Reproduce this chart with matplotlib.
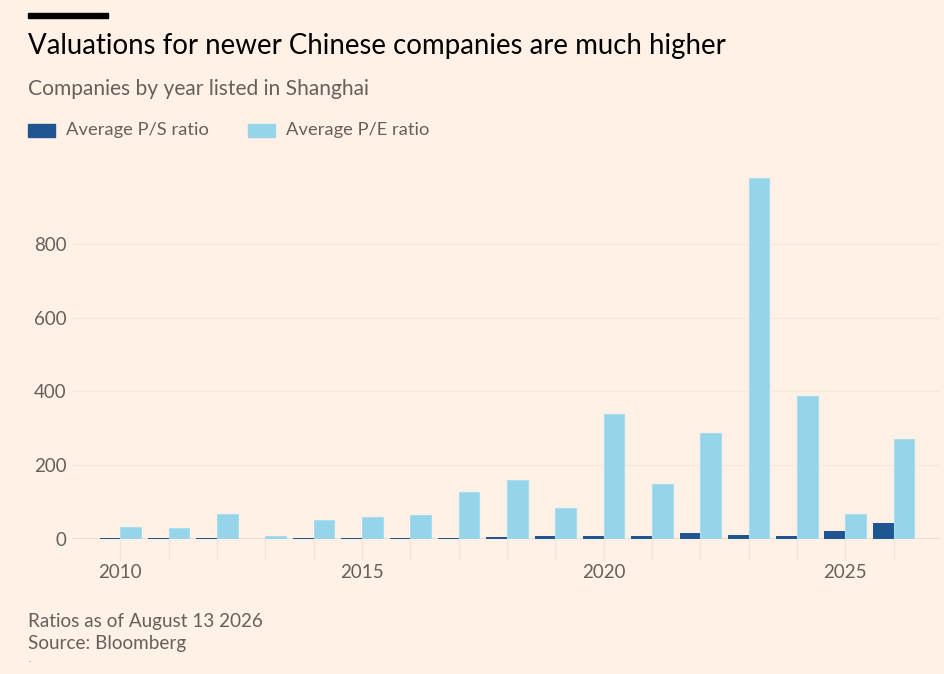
import numpy as np
import matplotlib
matplotlib.use("Agg")
import matplotlib.pyplot as plt
from matplotlib.patches import Rectangle

plt.rcParams['font.family'] = ['Lato', 'DejaVu Sans']

# data
years = list(range(2010, 2027))
ps_ratio = [2, 2, 2, 1, 4, 3.5, 4, 4, 4.5, 9, 9, 8, 16, 12, 9, 22, 43]
pe_ratio = [33, 30, 68, 8, 51, 60, 65, 127, 160, 84, 339, 149, 287, 978, 388, 68, 271]
tick_years = [2010, 2015, 2020, 2025]

BG = '#fff1e5'
DARK = '#1f5591'
LIGHT = '#96d4ea'
GREY = '#66605c'

fig = plt.figure(figsize=(9.44, 6.74), dpi=100, facecolor=BG)
ax = fig.add_axes([72/944, 1-539/674, (940-72)/944, (539-165)/674])
ax.set_facecolor(BG)

x = np.arange(len(years))
w = 0.43
ax.bar(x, ps_ratio, width=-w, align='edge', color=DARK, zorder=3)
ax.bar(x, pe_ratio, width=w, align='edge', color=LIGHT,
       edgecolor='#a8ddf0', linewidth=0.8, zorder=3)

ax.set_xlim(-1.0, len(years) - 0.04)
ax.set_ylim(0, 1014)

ax.set_yticks([0, 200, 400, 600, 800])
ax.yaxis.grid(True, color='#f5e8dc', linewidth=1, zorder=0)
ax.axhline(0, color='#e8dacf', linewidth=1.2, zorder=2)
ax.tick_params(axis='y', length=0, labelsize=13.5, labelcolor=GREY, pad=4)

ax.set_xticks(x)
ax.set_xticklabels([str(y) if y in tick_years else '' for y in years])
ax.tick_params(axis='x', length=15, width=1, color='#f2e4d9',
               labelsize=13.5, labelcolor=GREY, pad=3)
for s in ax.spines.values():
    s.set_visible(False)

# header
fig.add_artist(Rectangle((28/944, 1-18/674), 80/944, 5/674,
                         transform=fig.transFigure, color='black'))
fig.text(28/944, 1-46/674, 'Valuations for newer Chinese companies are much higher',
         fontsize=19.9, color='#000000', va='center', ha='left')
fig.text(28/944, 1-89/674, 'Companies by year listed in Shanghai',
         fontsize=15.1, color=GREY, va='center', ha='left')

# legend
fig.add_artist(Rectangle((28/944, 1-137/674), 27/944, 13/674,
                         transform=fig.transFigure, color=DARK))
fig.text(66/944, 1-130/674, 'Average P/S ratio', fontsize=13.2, color=GREY,
         va='center', ha='left')
fig.add_artist(Rectangle((248/944, 1-137/674), 27/944, 13/674,
                         transform=fig.transFigure, color=LIGHT))
fig.text(286/944, 1-130/674, 'Average P/E ratio', fontsize=13.2, color=GREY,
         va='center', ha='left')

# footer
fig.text(28/944, 1-621/674, 'Ratios as of August 13 2026', fontsize=13.6,
         color=GREY, va='center', ha='left')
fig.text(28/944, 1-644/674, 'Source: Bloomberg', fontsize=13.6,
         color=GREY, va='center', ha='left')
fig.text(28/944, 1-660/674, '.', fontsize=7, color=GREY, va='center', ha='left')

fig.savefig('out.png', dpi=100, facecolor=BG)
